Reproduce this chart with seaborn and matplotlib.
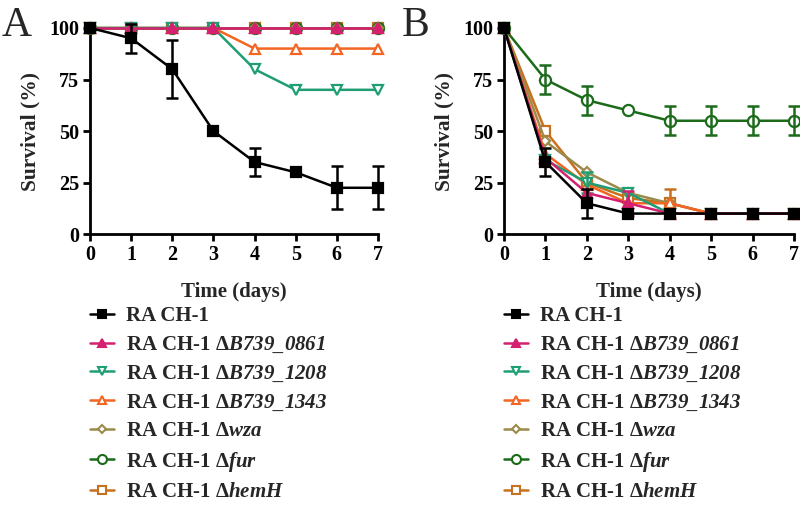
import matplotlib
matplotlib.use('Agg')
import matplotlib.pyplot as plt
import seaborn as sns
import numpy as np
import pandas as pd

# data
days = [0, 1, 2, 3, 4, 5, 6, 7]
strains = ['RA CH-1', 'RA CH-1 \u0394$\\mathrm{B739\\_0861}$', 'RA CH-1 \u0394$\\mathrm{B739\\_1208}$',
           'RA CH-1 \u0394$\\mathrm{B739\\_1343}$', 'RA CH-1 \u0394$\\mathrm{wza}$',
           'RA CH-1 \u0394$\\mathrm{fur}$', 'RA CH-1 \u0394$\\mathrm{hemH}$']

surv_a = {
    'wt':   [100, 95, 80, 50, 35, 30, 22.5, 22.5],
    '0861': [100, 100, 100, 100, 100, 100, 100, 100],
    '1208': [100, 100, 100, 100, 80, 70, 70, 70],
    '1343': [100, 100, 100, 100, 90, 90, 90, 90],
    'wza':  [100, 100, 100, 100, 100, 100, 100, 100],
    'fur':  [100, 100, 100, 100, 100, 100, 100, 100],
    'hemH': [100, 100, 100, 100, 100, 100, 100, 100],
}
err_a = {
    'wt':   [0, 7, 14, 0, 7, 0, 10.5, 10.5],
}

surv_b = {
    'wt':   [100, 35, 15, 10, 10, 10, 10, 10],
    '0861': [100, 37, 20, 15, 10, 10, 10, 10],
    '1208': [100, 36, 25, 20, 10, 10, 10, 10],
    '1343': [100, 39, 24, 15, 15, 10, 10, 10],
    'wza':  [100, 45, 30, 20, 15, 10, 10, 10],
    'fur':  [100, 75, 65, 60, 55, 55, 55, 55],
    'hemH': [100, 50, 25, 17.5, 15, 10, 10, 10],
}
err_b = {
    'wt':   [0, 7, 7, 0, 0, 0, 0, 0],
    '0861': [0, 0, 0, 6, 0, 0, 0, 0],
    '1208': [0, 0, 5, 0, 0, 0, 0, 0],
    'fur':  [0, 7, 7, 0, 7, 7, 7, 7],
    'hemH': [0, 0, 0, 0, 7, 0, 0, 0],
}

keys = ['wt', '0861', '1208', '1343', 'wza', 'fur', 'hemH']
colors = {'wt': '#000000', '0861': '#D4206E', '1208': '#1E9E72', '1343': '#F26522',
          'wza': '#9C8A4A', 'fur': '#1B6B1B', 'hemH': '#C8701E'}
markers = {'wt': 's', '0861': '^', '1208': 'v', '1343': '^', 'wza': 'D', 'fur': 'o', 'hemH': 's'}
filled = {'wt': True, '0861': True, '1208': False, '1343': False, 'wza': False, 'fur': False, 'hemH': False}
msize = {'wt': 7.5, '0861': 7.5, '1208': 7.5, '1343': 7.5, 'wza': 5.5, 'fur': 8, 'hemH': 7.5}

sns.set_style('ticks')
plt.rcParams['font.family'] = ['Liberation Serif', 'DejaVu Serif']
plt.rcParams['font.weight'] = 'bold'
plt.rcParams['mathtext.fontset'] = 'custom'
# italic gene names: the \mathrm part is mapped to bold italic
plt.rcParams['mathtext.rm'] = 'Liberation Serif:italic:bold'
plt.rcParams['mathtext.it'] = 'Liberation Serif:italic:bold'

fig = plt.figure(figsize=(8, 5.08), dpi=100)
ax_a = fig.add_axes([0.1125, 0.539, 0.36, 0.406])
ax_b = fig.add_axes([0.63, 0.539, 0.3625, 0.406])

draw_order = ['hemH', 'fur', 'wza', '1343', '1208', '0861', 'wt']


def draw_panel(ax, surv, errs):
    rows = []
    for k in keys:
        for d, v in zip(days, surv[k]):
            rows.append({'day': d, 'surv': v, 'strain': k})
    df = pd.DataFrame(rows)
    for z, k in enumerate(draw_order):
        sub = df[df['strain'] == k]
        c = colors[k]
        sns.lineplot(data=sub, x='day', y='surv', ax=ax, color=c, lw=1.8,
                     marker=markers[k], markersize=msize[k],
                     markerfacecolor=c if filled[k] else 'white',
                     markeredgecolor=c, markeredgewidth=1.6,
                     clip_on=False, zorder=3 + z, legend=False)
        if k in errs:
            e = np.array(errs[k])
            m = e > 0
            ax.errorbar(np.array(days)[m], np.array(surv[k])[m], yerr=e[m], fmt='none',
                        ecolor=c, elinewidth=1.8, capsize=4.5, capthick=1.8,
                        clip_on=False, zorder=3 + z)
    ax.set_xlim(0, 7)
    ax.set_ylim(0, 100)
    ax.set_xticks(days)
    ax.set_yticks([0, 25, 50, 75, 100])
    ax.tick_params(width=2, length=5, labelsize=14.5, pad=3, colors='black')
    for lab in ax.get_xticklabels() + ax.get_yticklabels():
        lab.set_fontweight('bold')
    for s in ['left', 'bottom']:
        ax.spines[s].set_linewidth(2)
        ax.spines[s].set_color('black')
    sns.despine(ax=ax)
    ax.set_xlabel('Time (days)', fontsize=15, fontweight='bold', labelpad=12)
    ax.set_ylabel('Survival (%)', fontsize=15.5, fontweight='bold', labelpad=6)

    handles = []
    for k in keys:
        c = colors[k]
        h = plt.Line2D([], [], color=c, lw=1.8, marker=markers[k], markersize=msize[k] - 1.5,
                       markerfacecolor=c if filled[k] else 'white',
                       markeredgecolor=c, markeredgewidth=1.5)
        handles.append(h)
    ax.legend(handles, strains, loc='upper left', bbox_to_anchor=(0.0, -0.35),
              frameon=False, handlelength=1.15, handletextpad=0.6,
              labelspacing=0.41, borderaxespad=0, borderpad=0,
              prop={'weight': 'bold', 'size': 15})


draw_panel(ax_a, surv_a, err_a)
draw_panel(ax_b, surv_b, err_b)

fig.text(0.002, 0.988, 'A', fontsize=30, fontweight='normal', va='top', ha='left')
fig.text(0.502, 0.988, 'B', fontsize=30, fontweight='normal', va='top', ha='left')

fig.savefig('out.png', dpi=100)
